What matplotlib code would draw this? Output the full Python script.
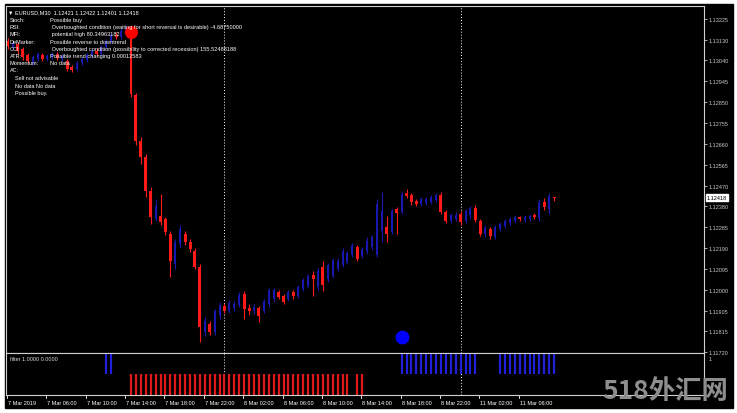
import matplotlib
matplotlib.use("Agg")
import matplotlib.pyplot as plt
import matplotlib.transforms as mtransforms
from matplotlib.patches import Rectangle

# EURUSD M30, bars from 7 Mar 2019 02:00, one bar per 30 min
bar_open = [
    1.13125, 1.13098, 1.13112, 1.13089, 1.13062, 1.13030, 1.13044, 1.13062,
    1.13044, 1.13053, 1.13066, 1.13044, 1.13035, 1.13008, 1.12999, 1.13026,
    1.13039, 1.13057, 1.13080, 1.13066, 1.13098, 1.13125, 1.13152, 1.13143,
    1.13166, 1.13170, 1.12881, 1.12673, 1.12601, 1.12447, 1.12321, 1.12334,
    1.12321, 1.12253, 1.12118, 1.12208, 1.12253, 1.12217, 1.12176, 1.12104,
    1.11810, 1.11846, 1.11810, 1.11887, 1.11928, 1.11905, 1.11919, 1.11932,
    1.11982, 1.11919, 1.11905, 1.11919, 1.11905, 1.11937, 1.11959, 1.11991,
    1.11973, 1.11959, 1.11991, 1.11973, 1.12004, 1.12018, 1.12068, 1.12013,
    1.12104, 1.12049, 1.12063, 1.12095, 1.12113, 1.12127, 1.12158, 1.12194,
    1.12154, 1.12176, 1.12194, 1.12158, 1.12266, 1.12284, 1.12262, 1.12366,
    1.12353, 1.12438, 1.12429, 1.12402, 1.12388, 1.12393, 1.12397, 1.12406,
    1.12429, 1.12353, 1.12312, 1.12321, 1.12344, 1.12312, 1.12339, 1.12371,
    1.12312, 1.12253, 1.12275, 1.12239, 1.12275, 1.12289, 1.12303, 1.12312,
    1.12330, 1.12316, 1.12321, 1.12339, 1.12325, 1.12397, 1.12366, 1.12421,
]
bar_high = [
    1.13139, 1.13125, 1.13121, 1.13098, 1.13071, 1.13062, 1.13075, 1.13071,
    1.13066, 1.13075, 1.13075, 1.13066, 1.13044, 1.13017, 1.13035, 1.13053,
    1.13071, 1.13089, 1.13094, 1.13107, 1.13134, 1.13161, 1.13166, 1.13184,
    1.13193, 1.13188, 1.12890, 1.12691, 1.12614, 1.12465, 1.12411, 1.12434,
    1.12330, 1.12266, 1.12230, 1.12293, 1.12266, 1.12230, 1.12190, 1.12118,
    1.11878, 1.11860, 1.11914, 1.11946, 1.11941, 1.11955, 1.11950, 1.11991,
    1.11995, 1.11937, 1.11937, 1.11928, 1.11959, 1.12009, 1.12009, 1.12000,
    1.11982, 1.12000, 1.12000, 1.12022, 1.12054, 1.12072, 1.12086, 1.12100,
    1.12131, 1.12122, 1.12145, 1.12145, 1.12190, 1.12176, 1.12212, 1.12203,
    1.12194, 1.12239, 1.12248, 1.12411, 1.12443, 1.12334, 1.12366, 1.12375,
    1.12447, 1.12457, 1.12438, 1.12411, 1.12420, 1.12420, 1.12429, 1.12438,
    1.12443, 1.12362, 1.12348, 1.12353, 1.12357, 1.12366, 1.12379, 1.12384,
    1.12321, 1.12293, 1.12284, 1.12293, 1.12307, 1.12321, 1.12330, 1.12339,
    1.12334, 1.12339, 1.12344, 1.12348, 1.12411, 1.12415, 1.12438, 1.12422,
]
bar_low = [
    1.13089, 1.13089, 1.13066, 1.13039, 1.13026, 1.13017, 1.13035, 1.13035,
    1.13035, 1.13044, 1.13039, 1.13035, 1.12990, 1.12985, 1.12990, 1.13017,
    1.13030, 1.13048, 1.13057, 1.13057, 1.13089, 1.13116, 1.13134, 1.13134,
    1.13157, 1.12872, 1.12655, 1.12569, 1.12420, 1.12298, 1.12312, 1.12293,
    1.12248, 1.12059, 1.12095, 1.12194, 1.12203, 1.12172, 1.12095, 1.11765,
    1.11792, 1.11796, 1.11796, 1.11869, 1.11896, 1.11896, 1.11905, 1.11923,
    1.11869, 1.11887, 1.11892, 1.11855, 1.11896, 1.11923, 1.11946, 1.11959,
    1.11937, 1.11950, 1.11959, 1.11964, 1.11995, 1.12009, 1.11973, 1.12000,
    1.11995, 1.12036, 1.12054, 1.12086, 1.12104, 1.12118, 1.12149, 1.12131,
    1.12145, 1.12163, 1.12181, 1.12149, 1.12217, 1.12217, 1.12253, 1.12253,
    1.12344, 1.12415, 1.12384, 1.12379, 1.12379, 1.12384, 1.12388, 1.12397,
    1.12344, 1.12303, 1.12303, 1.12312, 1.12293, 1.12303, 1.12321, 1.12307,
    1.12244, 1.12239, 1.12230, 1.12230, 1.12266, 1.12280, 1.12293, 1.12303,
    1.12312, 1.12307, 1.12312, 1.12321, 1.12312, 1.12362, 1.12344, 1.12401,
]
bar_close = [
    1.13103, 1.13116, 1.13080, 1.13053, 1.13035, 1.13053, 1.13066, 1.13044,
    1.13057, 1.13066, 1.13048, 1.13057, 1.12999, 1.12994, 1.13026, 1.13044,
    1.13062, 1.13080, 1.13066, 1.13098, 1.13125, 1.13152, 1.13143, 1.13170,
    1.13179, 1.12885, 1.12673, 1.12601, 1.12447, 1.12330, 1.12379, 1.12307,
    1.12262, 1.12131, 1.12217, 1.12275, 1.12217, 1.12185, 1.12104, 1.11833,
    1.11860, 1.11810, 1.11905, 1.11932, 1.11905, 1.11941, 1.11937, 1.11977,
    1.11914, 1.11905, 1.11923, 1.11883, 1.11950, 1.12000, 1.12000, 1.11968,
    1.11946, 1.11991, 1.11973, 1.12013, 1.12045, 1.12063, 1.12049, 1.12086,
    1.12022, 1.12113, 1.12136, 1.12131, 1.12176, 1.12167, 1.12203, 1.12140,
    1.12185, 1.12221, 1.12239, 1.12388, 1.12357, 1.12253, 1.12357, 1.12348,
    1.12434, 1.12424, 1.12397, 1.12388, 1.12411, 1.12411, 1.12420, 1.12429,
    1.12353, 1.12312, 1.12339, 1.12339, 1.12307, 1.12357, 1.12371, 1.12316,
    1.12253, 1.12280, 1.12244, 1.12284, 1.12298, 1.12312, 1.12321, 1.12330,
    1.12321, 1.12330, 1.12334, 1.12330, 1.12397, 1.12375, 1.12424, 1.12418,
]

# signal dots (bar, price)
sell_dot = (25, 1.13166)
buy_dot = (80, 1.11787)

# filter indicator: bars with buy (blue) and sell (red) state
filter_buy = [20, 21] + list(range(80, 96)) + list(range(100, 112))
filter_sell = list(range(25, 70)) + [71, 72]

price_ticks = [1.13225, 1.13130, 1.13040, 1.12945, 1.12850, 1.12755, 1.12660,
               1.12565, 1.12470, 1.12380, 1.12285, 1.12190, 1.12095, 1.12000,
               1.11905, 1.11815, 1.11720]
current_price = 1.12418

time_ticks = [0, 8, 16, 24, 32, 40, 48, 56, 64, 72, 80, 88, 96, 104]
time_labels = ["7 Mar 2019", "7 Mar 06:00", "7 Mar 10:00", "7 Mar 14:00",
               "7 Mar 18:00", "7 Mar 22:00", "8 Mar 02:00", "8 Mar 06:00",
               "8 Mar 10:00", "8 Mar 14:00", "8 Mar 18:00", "8 Mar 22:00",
               "11 Mar 02:00", "11 Mar 06:00"]
day_breaks = [44, 92]

info_rows = [
    ("Stoch:", "Possible buy"),
    ("RSI:", " Overboughted condition (waiting for short reversal is desirable) -4.68750000"),
    ("MFI:", " potential high 80.34963182"),
    ("DeMarker:", "Possible reverse to downtrend"),
    ("CCI:", " Overboughted condition (possibility to corrected recession) 155.52488188"),
    ("ATR:", "Possible trend changing 0.00012583"),
    ("Momentum:", "No data"),
    ("AC:", ""),
]
info_extra = ["Sell not advisable", "No data No data", "Possible buy."]

W, H = 737, 414
BULL = "#1818b0"
BEAR = "#ff1a1a"
FONT = "Liberation Sans"


def fx(px):
    return px / W


def fy(py):
    return 1 - py / H


def draw_candles(ax):
    for i in range(len(bar_open)):
        o, h, l, c = bar_open[i], bar_high[i], bar_low[i], bar_close[i]
        bull = c >= o
        col = BULL if bull else BEAR
        ax.vlines(i, l, h, color=col, lw=0.8, zorder=2)
        body = max(abs(c - o), 0.000015)
        ax.bar(i, body, bottom=min(o, c), width=0.4 if bull else 0.6, color=col,
               edgecolor="none", zorder=3)


def main():
    fig = plt.figure(figsize=(W / 100, H / 100), dpi=100, facecolor="white")
    fig.patches.append(Rectangle((fx(5), fy(409)), fx(733) - fx(5), fy(5) - fy(409),
                                 transform=fig.transFigure, color="black", zorder=-10))

    left, right = 6, 704
    ax = fig.add_axes([fx(left), fy(353.5), fx(right) - fx(left), fy(6.5) - fy(353.5)])
    ind = fig.add_axes([fx(left), fy(396), fx(right) - fx(left), fy(354) - fy(396)])

    xlim = (-(8 - left) / 4.92, (right - 8) / 4.92)
    for a in (ax, ind):
        a.set_facecolor("black")
        a.set_xlim(*xlim)
        for side in a.spines:
            a.spines[side].set_color("#d0d0d0")
            a.spines[side].set_linewidth(0.8)
        for d in day_breaks:
            a.axvline(d, color="white", lw=0.7, linestyle=(0, (1, 2)), zorder=1)

    draw_candles(ax)
    ax.scatter([sell_dot[0]], [sell_dot[1]], s=70, color="red", zorder=5)
    ax.scatter([buy_dot[0]], [buy_dot[1]], s=80, color="#0000ff", zorder=5)

    ax.set_ylim(1.11719, 1.13286)
    ax.set_xticks([])
    ax.yaxis.tick_right()
    ax.set_yticks(price_ticks)
    ax.set_yticklabels([f"{p:.5f}" for p in price_ticks])
    ax.tick_params(axis="y", length=2, width=0.6, pad=1.5, colors="#c8c8c8",
                   labelsize=4)
    for t in ax.get_yticklabels():
        t.set_fontfamily(FONT)

    trans = mtransforms.blended_transform_factory(ax.transAxes, ax.transData)
    ax.text(1.0043, current_price, "1.12418", transform=trans, fontsize=4,
            family=FONT, color="black", va="center", ha="left", zorder=6,
            bbox=dict(boxstyle="square,pad=0.15", fc="white", ec="white"))

    # filter histogram
    ind.vlines(filter_buy, 0.5, 1.0, color="#2020d8", lw=1.6)
    ind.vlines(filter_sell, 0.0, 0.5, color="#e01818", lw=1.6)
    ind.set_ylim(0, 1.02)
    ind.set_yticks([])
    ind.set_xticks([])
    ind.text(4 / 698, 0.88, "filter 1.0000 0.0000", transform=ind.transAxes,
             fontsize=4, family=FONT, color="#d8d8d8", va="center")
    ind.text(1.006, 0.88, "1", transform=ind.transAxes, fontsize=4,
             family=FONT, color="#c8c8c8", va="center")

    tt = mtransforms.blended_transform_factory(ind.transData, ind.transAxes)
    for pos, lab in zip(time_ticks, time_labels):
        ind.plot([pos - 0.2, pos - 0.2], [0, -0.07], color="white", lw=0.6,
                 transform=tt, clip_on=False)
        ind.text(pos, -0.17, lab, transform=tt, fontsize=4, family=FONT,
                 color="white", va="center", ha="left")

    # indicator summary in the top left corner
    fig.text(fx(8), fy(13), "\u25bc EURUSD,M30  1.12421 1.12422 1.12401 1.12418",
             fontsize=4, family=[FONT, "DejaVu Sans"], color="white", va="center")
    for k, (name, val) in enumerate(info_rows):
        y = fy(20.5 + k * 7.2)
        fig.text(fx(10), y, name, fontsize=4, family=FONT, color="white", va="center")
        fig.text(fx(50), y, val, fontsize=4.1, family=FONT, color="white", va="center")
    for k, line in enumerate(info_extra):
        fig.text(fx(15), fy(79 + k * 7.2), line, fontsize=4, family=FONT,
                 color="white", va="center")

    fig.text(fx(665), fy(392), "518外汇网", fontsize=19, fontweight="bold",
             family=["Noto Sans CJK SC", "DejaVu Sans"], color="#8e8e8e",
             ha="center", va="center")

    fig.savefig("out.png", dpi=100, facecolor="white")


if __name__ == "__main__":
    main()
